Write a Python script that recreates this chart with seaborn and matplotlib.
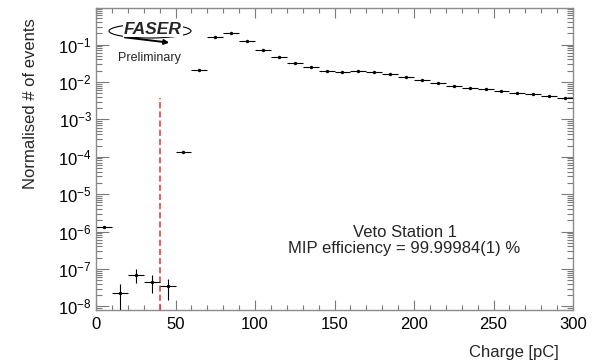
import numpy as np
import pandas as pd
import matplotlib
matplotlib.use("Agg")
import matplotlib.pyplot as plt
import seaborn as sns
from matplotlib.ticker import LogLocator, MultipleLocator, NullFormatter, LogFormatterSciNotation, FixedLocator
from matplotlib.patches import Ellipse
from matplotlib.transforms import IdentityTransform

# ---- data ----
charge = [5, 15, 25, 35, 45, 55, 65, 75, 85, 95, 105, 115, 125, 135, 145,
          155, 165, 175, 185, 195, 205, 215, 225, 235, 245, 255, 265, 275, 285, 295]
fraction = [1.33e-6, 2.3e-8, 6.9e-8, 4.6e-8, 3.45e-8, 1.36e-4, 0.021, 0.158, 0.207, 0.127,
            0.073, 0.0464, 0.0329, 0.0247, 0.0199, 0.0190, 0.0193, 0.0182, 0.0160, 0.0136,
            0.0113, 0.0096, 0.0080, 0.0069, 0.0063, 0.0056, 0.0052, 0.0047, 0.0043, 0.0038]
fraction_err = [1.2e-7, 1.6e-8, 2.8e-8, 2.3e-8, 2.0e-8, 1.3e-6, 0, 0, 0, 0,
                0, 0, 0, 0, 0, 0, 0, 0, 0, 0,
                0, 0, 0, 0, 0, 0, 0, 0, 0, 0]
bin_halfwidth = 5
cut_value = 40
cut_top = 3.8e-3
x_ticks = [0, 50, 100, 150, 200, 250, 300]
y_ticks = [1e-8, 1e-7, 1e-6, 1e-5, 1e-4, 1e-3, 1e-2, 1e-1]

df = pd.DataFrame({"charge": charge, "fraction": fraction, "err": fraction_err})

sns.set_style("ticks")
plt.rcParams["font.family"] = ["Liberation Sans", "DejaVu Sans"]

W, H = 596, 364
fig = plt.figure(figsize=(W / 100, H / 100), dpi=100)
L, R, T, B = 96, 573, 8, 310
ax = fig.add_axes([L / W, 1 - B / H, (R - L) / W, (B - T) / H])

ax.errorbar(df["charge"], df["fraction"], xerr=bin_halfwidth, yerr=df["err"],
            fmt="none", ecolor="black", elinewidth=0.8, capsize=0, zorder=2)
sns.scatterplot(data=df, x="charge", y="fraction", ax=ax, marker="o", s=6,
                color="black", edgecolor="black", linewidth=0, zorder=3, legend=False)

ax.plot([cut_value, cut_value], [1e-10, cut_top], color="#e8332f", lw=1.1,
        dashes=(4, 2), zorder=1)

ax.set_yscale("log")
ax.set_xlim(0, 300)
ax.set_ylim(8e-9, 0.95)
ax.set_xticks(x_ticks)
ax.xaxis.set_minor_locator(MultipleLocator(10))
ax.yaxis.set_major_locator(FixedLocator(y_ticks))
ax.yaxis.set_minor_locator(LogLocator(base=10, subs=np.arange(2, 10), numticks=20))
ax.yaxis.set_minor_formatter(NullFormatter())
ax.yaxis.set_major_formatter(LogFormatterSciNotation())
ax.set_xlabel("")

for s in ax.spines.values():
    s.set_color("#8c8c8c")
    s.set_linewidth(1.0)

ax.tick_params(which="both", direction="in", top=True, right=True,
               color="#7a7a7a", labelsize=12, labelcolor="black", width=0.8)
ax.tick_params(axis="x", which="major", length=7.2, pad=5)
ax.tick_params(axis="x", which="minor", length=3.6)
ax.tick_params(axis="y", which="major", length=9, pad=3)
ax.tick_params(axis="y", which="minor", length=4.5)

ax.set_xlabel("Charge [pC]", fontsize=12, loc="right")
ax.xaxis.set_label_coords((559 - L) / (R - L), -(345 - B) / (B - T))
ax.set_ylabel("Normalised # of events", fontsize=12, loc="top")
ax.yaxis.set_label_coords((38 - L) / (R - L), (B - 18) / (B - T))

def fp(x, y):
    return (x / W, 1 - y / H)

fig.text(*fp(405, 233), "Veto Station 1", fontsize=12, ha="center", va="center")
fig.text(*fp(404, 248), "MIP efficiency = 99.99984(1) %", fontsize=12, ha="center", va="center")

# FASER logo
ell = Ellipse((150, H - 31), 82, 14, fill=False, edgecolor="black", lw=0.8,
              transform=IdentityTransform())
fig.add_artist(ell)
fig.text(*fp(153, 29), "FASER", fontsize=12.5, fontweight="bold", fontstyle="italic",
         ha="center", va="center",
         bbox=dict(facecolor="white", edgecolor="none", pad=0.5))
ax.annotate("", xy=(172, H - 43), xytext=(122, H - 37), xycoords="figure pixels",
            textcoords="figure pixels",
            arrowprops=dict(arrowstyle="-|>", lw=1.4, color="black", mutation_scale=7))
fig.text(*fp(149, 58), "Preliminary", fontsize=9, ha="center", va="center")

fig.savefig("out.png", dpi=100)
